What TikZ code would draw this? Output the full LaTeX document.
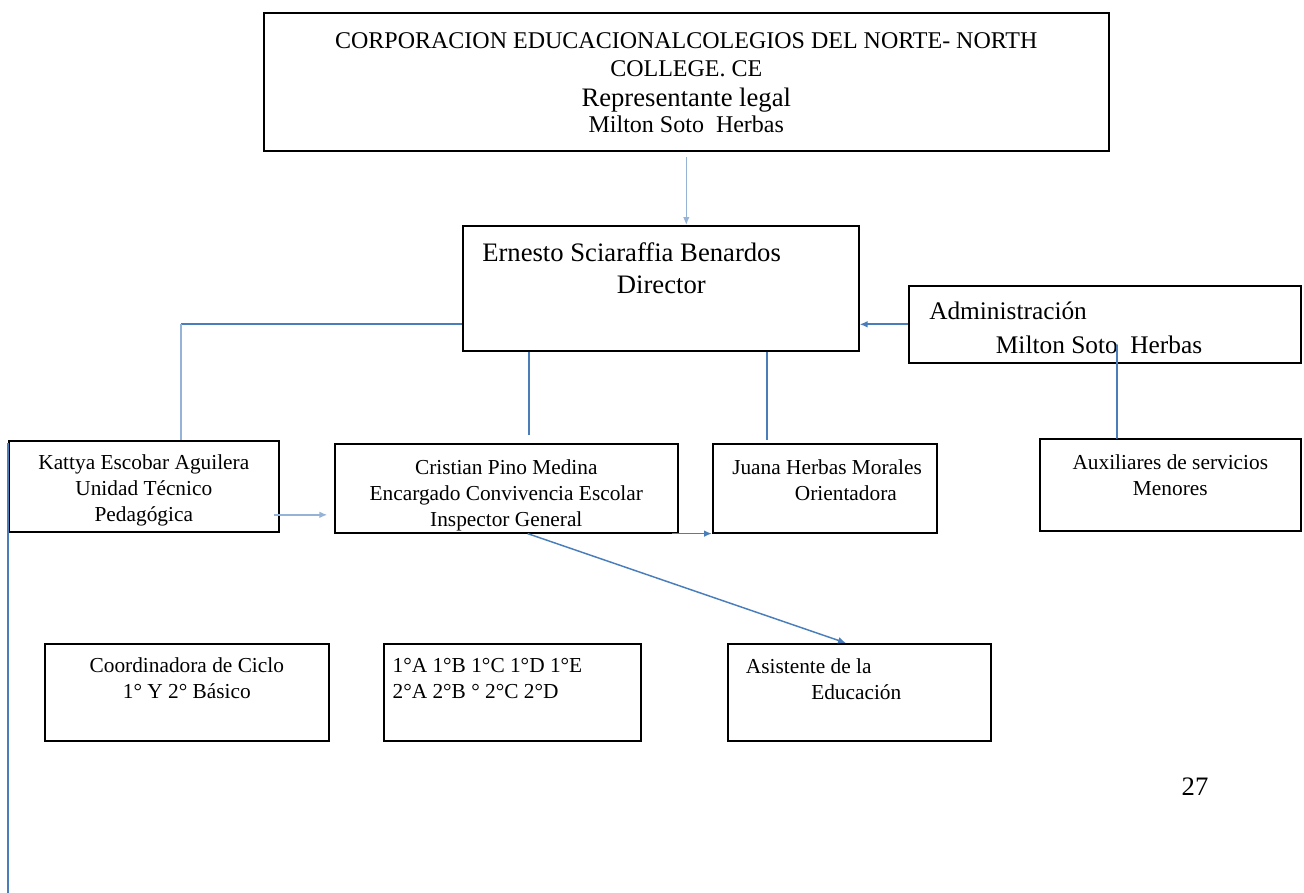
\documentclass[tikz,border=0pt]{standalone}
\usepackage{fontspec}
\setmainfont{Liberation Serif}
\usepackage{tikz}
\usetikzlibrary{positioning,arrows.meta,calc}
\definecolor{linkblue}{RGB}{74,126,187}
\definecolor{paleblue}{RGB}{149,179,215}
\newcommand{\fntbox}{\fontsize{16}{19.5}\selectfont}
\newcommand{\fnthead}{\fontsize{20}{24}\selectfont}
\newcommand{\fnttop}{\fontsize{18}{21}\selectfont}
\tikzstyle{block} = [rectangle, draw, line width=1.2pt, anchor=north west, inner sep=0pt]
\tikzstyle{txt} = [inner sep=0pt, align=center, font=\fntbox]
\tikzstyle{link} = [draw, linkblue, line width=1.5pt]
\tikzstyle{palelink} = [draw, paleblue, line width=1.1pt]
\tikzstyle{line} = [draw, linkblue, line width=1.3pt, -{Latex[length=6pt,width=5pt]}]

\begin{document}
\begin{tikzpicture}[x=0.75pt, y=-0.75pt]
    \useasboundingbox (0,0) rectangle (1304,893);
    % Blocks
    \node [block, minimum width=633.75pt, minimum height=103.5pt] (corp) at (263,12) {};
    \node [block, minimum width=297pt, minimum height=93.75pt] (dir) at (462,225) {};
    \node [block, minimum width=294pt, minimum height=57.75pt] (adm) at (908,285) {};
    \node [block, minimum width=202.5pt, minimum height=68.25pt] (kat) at (8,440) {};
    \node [block, minimum width=257.25pt, minimum height=66.75pt] (cri) at (334,443) {};
    \node [block, minimum width=168pt, minimum height=66.75pt] (jua) at (712,443) {};
    \node [block, minimum width=195.75pt, minimum height=69pt] (aux) at (1039,438) {};
    \node [block, minimum width=213pt, minimum height=72.75pt] (coo) at (44,643) {};
    \node [block, minimum width=192.75pt, minimum height=72.75pt] (cls) at (383,643) {};
    \node [block, minimum width=197.25pt, minimum height=72.75pt] (asi) at (727,643) {};
    % Texts
    \node [txt, font=\fnttop, below=15pt of corp.north] (corptxt)
    {
      CORPORACION EDUCACIONALCOLEGIOS DEL NORTE- NORTH\\
      COLLEGE. CE\\[2pt]
      {\fontsize{20}{21}\selectfont Representante legal}\\[-2pt]
      Milton Soto~ Herbas
    };
    \node [txt, font=\fnthead, align=left, below right=12.75pt and 15pt of dir.north west] (dirtxt)
    {
      Ernesto Sciaraffia Benardos\\
      \hspace*{101pt}Director
    };
    \node [txt, font=\fontsize{19}{25}\selectfont, align=left, below right=12.75pt and 15.75pt of adm.north west] (admtxt)
    {
      Administración\\
      \hspace*{50pt}Milton Soto~ Herbas
    };
    \node [txt, below=10.5pt of kat.north] (kattxt)
    {
      Kattya Escobar Aguilera\\
      Unidad Técnico\\
      Pedagógica
    };
    \node [txt, below=12pt of cri.north] (critxt)
    {
      Cristian Pino Medina\\
      Encargado Convivencia Escolar\\
      Inspector General
    };
    \node [txt, align=left, below right=12pt and 15pt of jua.north west] (juatxt)
    {
      Juana Herbas Morales\\
      \hspace*{47pt}Orientadora
    };
    \node [txt, below=12pt of aux.north] (auxtxt)
    {
      Auxiliares de servicios\\
      Menores
    };
    \node [txt, below=11pt of coo.north] (cootxt)
    {
      Coordinadora de Ciclo\\
      1° Y 2° Básico
    };
    \node [txt, align=left, below right=11pt and 7pt of cls.north west] (clstxt)
    {
      1°A 1°B 1°C 1°D 1°E\\
      2°A 2°B ° 2°C 2°D
    };
    \node [txt, align=left, below right=11.5pt and 14pt of asi.north west] (asitxt)
    {
      Asistente de la\\
      \hspace*{49pt}Educación
    };
    \node [txt, font=\fontsize{20}{24}\selectfont] (page) at (1195,787) {27};
    % Attachment points
    \coordinate (katin) at ([xshift=27.75pt]kat.north);
    \coordinate (criin) at ([xshift=17pt]cri.north);
    \coordinate (juain) at ([xshift=-43.5pt]jua.north);
    \coordinate (katout) at ([xshift=-4.5pt,yshift=-21.4pt]kat.east);
    \coordinate (criout) at ([xshift=-5.25pt]cri.south east);
    \coordinate (soto) at (1117,345);
    \coordinate (pagefoot) at (0,900);
    % Lines
    \path [line, paleblue, line width=1.1pt] ([yshift=-4pt]corp.south) -- (corp.south |- dir.north);
    \path [line] (adm.west) -- (adm.west -| dir.east);
    \path [link, line cap=round] (soto) -- (soto |- aux.north);
    \path [link] (dir.west |- adm.west) -- (katin |- adm.west);
    \path [palelink] (katin |- adm.west) -- (katin);
    \path [link] (criin |- dir.south) -- ([yshift=6pt]criin);
    \path [link] (juain |- dir.south) -- ([yshift=2pt]juain);
    \path [line, paleblue, line width=1.1pt, shorten >=5pt] (katout) -- (katout -| cri.west);
    \path [line] (criout) -- (criout -| jua.west);
    \path [line, line width=1.1pt] ([xshift=16pt]cri.south) -- ([xshift=-10pt]asi.north);
    \path [link, line width=2.2pt] ([yshift=-2pt]kat.north west) -- (kat.north west |- pagefoot);
\end{tikzpicture}
\end{document}
